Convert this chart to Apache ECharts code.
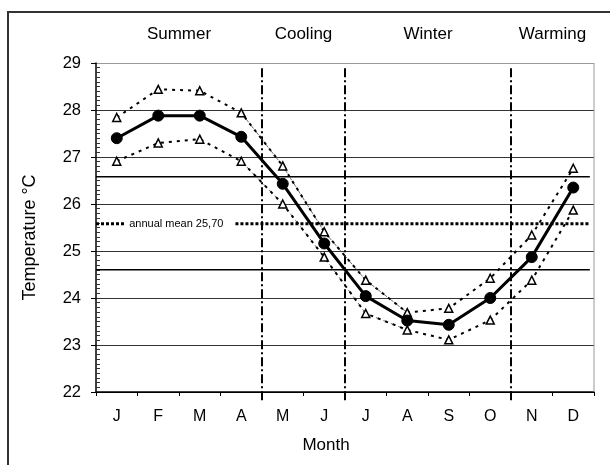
<!DOCTYPE html>
<html><head><meta charset="utf-8">
<script src="https://cdn.jsdelivr.net/npm/echarts@6/dist/echarts.min.js"></script>
<style>html,body{margin:0;padding:0;background:#fff}#c{width:610px;height:465px}</style>
</head><body><div id="c"></div>
<script>
// ---- data ----
const months = ['J','F','M','A','M','J','J','A','S','O','N','D'];
const meanTemp  = [27.40, 27.88, 27.88, 27.43, 26.43, 25.16, 24.04, 23.52, 23.43, 24.00, 24.87, 26.35];
const upperTemp = [27.84, 28.44, 28.41, 27.94, 26.81, 25.41, 24.38, 23.69, 23.78, 24.42, 25.34, 26.76];
const lowerTemp = [26.91, 27.30, 27.38, 26.91, 26.00, 24.87, 23.67, 23.32, 23.11, 23.53, 24.38, 25.87];
const upperThin = [null, null, null, 27.94, 26.81, 25.41, 24.38, 23.69, null, null, null, null];
const lowerThin = [null, null, null, 26.91, 26.00, 24.87, 23.67, 23.32, null, null, null, null];
const seasons = [{at: 2, name: 'Summer'}, {at: 5, name: 'Cooling'}, {at: 8, name: 'Winter'}, {at: 11, name: 'Warming'}];
const seasonBounds = [4, 6, 10];
const annualMeanLine = 25.58;
const annualMeanText = 'annual mean 25,70';
const sdLines = [26.58, 24.60];
const yTicks = [22, 29, 1];

const FONT = '"Liberation Sans", Arial, sans-serif';
const chart = echarts.init(document.getElementById('c'));

function segSeries(segs, style, z) {
  return {
    type: 'custom', xAxisIndex: 1, yAxisIndex: 0, clip: false, z: z, silent: true,
    data: segs, encode: {x: [0, 2], y: [1, 3]},
    renderItem: function (params, api) {
      const p1 = api.coord([api.value(0), api.value(1)]);
      const p2 = api.coord([api.value(2), api.value(3)]);
      return {type: 'line', shape: {x1: p1[0], y1: p1[1], x2: p2[0], y2: p2[1]}, style: style};
    }
  };
}

const vSegs = seasonBounds.map(b => [b, 28.89, b, 21.79]);
const sdSegs = sdLines.map(v => [0, v, 11.9, v]);
const meanSegs = [[0, annualMeanLine, 0.7, annualMeanLine], [3.36, annualMeanLine, 11.9, annualMeanLine]];
const borderSegs = [[12, 22, 12, 29]];

const option = {
  animation: false,
  backgroundColor: '#fff',
  textStyle: {fontFamily: FONT},
  graphic: [{type: 'rect', shape: {x: 8, y: 12, width: 700, height: 520}, style: {fill: null, stroke: '#333', lineWidth: 2}, z: -10}],
  grid: {left: 96, right: 16, top: 63, bottom: 73, containLabel: false},
  xAxis: [{
    type: 'category', data: months, boundaryGap: true,
    axisLine: {lineStyle: {color: '#000', width: 1.5}},
    axisTick: {show: true, interval: 0, length: 4, lineStyle: {color: '#000'}},
    axisLabel: {color: '#000', fontSize: 16, fontFamily: FONT, margin: 17, interval: 0},
    name: 'Month', nameLocation: 'middle', nameGap: 45,
    nameTextStyle: {color: '#000', fontSize: 17, fontFamily: FONT, padding: [0, 38, 0, 0]},
    splitLine: {show: false}
  }, {
    type: 'value', position: 'top', min: 0, max: 12, interval: 1,
    axisLine: {show: false}, axisTick: {show: false}, splitLine: {show: false},
    axisLabel: {
      show: true, color: '#000', fontSize: 17, fontFamily: FONT, margin: 20, showMinLabel: true, showMaxLabel: true,
      formatter: function (v) { const s = seasons.find(o => o.at === v); return s ? s.name : ''; }
    }
  }],
  yAxis: [{
    type: 'value', min: yTicks[0], max: yTicks[1], interval: yTicks[2],
    axisLine: {show: true, lineStyle: {color: '#000', width: 1.5}},
    axisTick: {show: true, length: 5, lineStyle: {color: '#000'}},
    axisLabel: {color: '#000', fontSize: 16.5, fontFamily: FONT, margin: 15},
    splitLine: {show: true, lineStyle: {color: ['#000', '#333', '#333', '#333', '#333', '#333', '#333', '#999'], width: 1}},
    name: 'Temperature °C', nameLocation: 'middle', nameGap: 57, nameRotate: 90,
    nameTextStyle: {color: '#000', fontSize: 18, fontFamily: FONT, padding: [0, 20, 0, 0]}
  }, {
    type: 'value', position: 'left', min: yTicks[0], max: yTicks[1], interval: yTicks[2],
    axisLine: {show: false}, axisLabel: {show: false}, splitLine: {show: false},
    axisTick: {show: false, inside: true},
    minorTick: {show: true, splitNumber: 10, length: 4, lineStyle: {color: '#333', width: 1}}
  }],
  series: [
    segSeries(borderSegs, {stroke: '#999', lineWidth: 1}, 1),
    segSeries(sdSegs, {stroke: '#000', lineWidth: 1.6}, 2),
    segSeries(meanSegs, {stroke: '#000', lineWidth: 3, lineDash: [3, 2]}, 2),
    segSeries(vSegs, {stroke: '#000', lineWidth: 2, lineDash: [9, 3, 2, 3]}, 3),
    {
      type: 'custom', xAxisIndex: 1, yAxisIndex: 0, clip: false, z: 3, silent: true,
      data: [[0.8, annualMeanLine]],
      renderItem: function (params, api) {
        const p = api.coord([api.value(0), api.value(1)]);
        return {type: 'text', x: p[0], y: p[1], style: {text: annualMeanText, fill: '#000', font: '11px ' + FONT, align: 'left', verticalAlign: 'middle'}};
      }
    },
    {
      name: 'upperThin', type: 'line', data: upperThin, symbol: 'none', z: 4, connectNulls: false,
      lineStyle: {color: '#444', width: 0.8, type: [4, 4]}
    },
    {
      name: 'lowerThin', type: 'line', data: lowerThin, symbol: 'none', z: 4, connectNulls: false,
      lineStyle: {color: '#444', width: 0.8, type: [4, 4]}
    },
    {
      name: 'upper', type: 'line', data: upperTemp, symbol: 'triangle', symbolSize: 8, z: 5,
      lineStyle: {color: '#000', width: 2, type: [3, 5]},
      itemStyle: {color: '#fff', borderColor: '#000', borderWidth: 1.5}
    },
    {
      name: 'lower', type: 'line', data: lowerTemp, symbol: 'triangle', symbolSize: 8, z: 5,
      lineStyle: {color: '#000', width: 2, type: [3, 5]},
      itemStyle: {color: '#fff', borderColor: '#000', borderWidth: 1.5}
    },
    {
      name: 'mean', type: 'line', data: meanTemp, symbol: 'circle', symbolSize: 11, z: 6,
      lineStyle: {color: '#000', width: 3},
      itemStyle: {color: '#000', borderColor: '#000'}
    }
  ]
};
chart.setOption(option);
</script></body></html>
